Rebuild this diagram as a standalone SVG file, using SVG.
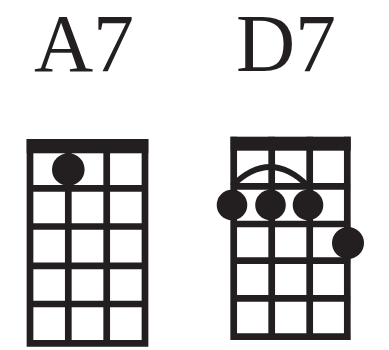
<svg xmlns="http://www.w3.org/2000/svg" width="389" height="350" viewBox="0 0 389 350">
<style>
.t{font-family:"Liberation Serif","Times New Roman",serif;font-size:82px;fill:#231f20;text-anchor:middle}
.g{stroke:#231f20;stroke-width:6.7;fill:none;stroke-linecap:butt}
.n{fill:#231f20}
.d{fill:#231f20}
.arc{stroke:#231f20;stroke-width:5.5;fill:none}
</style>
<rect width="389" height="350" fill="#fff"/>
<g id="A7">
<text class="t" x="84" y="71">A7</text>
<path class="g" d="M30 139V346.7M68.3 139V346.7M106.7 139V346.7M145 139V346.7M26.7 188.3H148.3M26.7 226.5H148.3M26.7 265.8H148.3M26.7 304H148.3M26.7 343.3H148.3"/>
<rect class="n" x="26.7" y="139" width="121.6" height="14.3"/>
<circle class="d" cx="68.3" cy="169.5" r="16.3"/>
</g>
<g id="D7">
<text class="t" x="286" y="71">D7</text>
<path class="g" d="M233.7 136.7V340M271.7 136.7V340M309.7 136.7V340M347.3 136.7V340M230.7 186.3H350.7M230.7 224H350.7M230.7 260.7H350.7M230.7 298.3H350.7M230.7 336.7H350.7"/>
<rect class="n" x="230.7" y="136.7" width="120" height="14"/>
<path class="arc" d="M232 186Q270 148 308 186"/>
<circle class="d" cx="232" cy="205" r="15.3"/>
<circle class="d" cx="270.5" cy="205" r="15.3"/>
<circle class="d" cx="308" cy="205" r="15.3"/>
<circle class="d" cx="348" cy="243" r="16"/>
</g>
</svg>
